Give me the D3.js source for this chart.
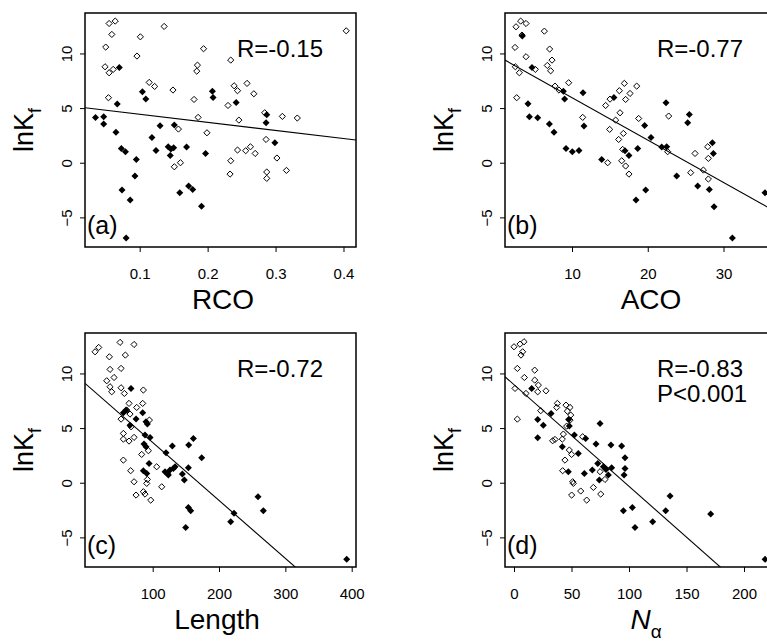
<!DOCTYPE html>
<html>
<head>
<meta charset="utf-8">
<script src="https://cdn.jsdelivr.net/npm/d3@7"></script>
<style>
	body { margin: 0; background: #fff; }
	svg text { font-family: "Liberation Sans", Arial, Helvetica, sans-serif; fill: #000; }
</style>
</head>
<body>
<div id="chart"></div>
<script>
// [x, lnKf] pairs; open = hollow diamonds, filled = solid diamonds
const rcoOpen = [[0.055,12.74],[0.064,12.96],[0.059,11.74],[0.050,10.58],[0.049,8.78],[0.061,8.54],[0.055,8.23],[0.054,5.95],[0.101,11.52],[0.096,9.76],[0.136,12.47],[0.114,7.35],[0.122,6.98],[0.149,6.65],[0.194,10.43],[0.185,8.93],[0.184,8.38],[0.180,5.79],[0.186,4.15],[0.199,2.74],[0.157,3.08],[0.151,-0.37],[0.160,0.00],[0.234,9.39],[0.239,7.04],[0.244,6.59],[0.258,7.26],[0.268,6.31],[0.230,5.24],[0.246,3.90],[0.244,1.16],[0.256,1.10],[0.263,1.46],[0.270,0.85],[0.234,0.18],[0.233,-1.04],[0.286,2.13],[0.287,-0.85],[0.287,-1.43],[0.302,0.43],[0.316,-0.70],[0.310,4.24],[0.332,4.09],[0.404,12.07],[0.284,4.57]];
const rcoFilled = [[0.035,4.15],[0.047,4.21],[0.047,3.54],[0.070,8.72],[0.067,5.37],[0.065,2.80],[0.073,1.31],[0.079,1.01],[0.095,0.30],[0.093,-1.22],[0.074,-2.50],[0.086,-3.41],[0.080,-6.89],[0.104,6.49],[0.109,5.82],[0.118,2.32],[0.130,3.38],[0.124,1.13],[0.142,1.46],[0.150,1.37],[0.145,0.67],[0.151,3.45],[0.169,1.43],[0.159,-2.74],[0.172,-2.13],[0.178,-2.44],[0.191,-3.99],[0.197,0.85],[0.207,6.55],[0.208,5.98],[0.242,5.52],[0.286,3.66],[0.287,4.39],[0.299,1.83],[0.146,1.25]];

const acoOpen = [[2.61,12.44],[3.22,12.96],[3.93,12.74],[3.40,11.68],[2.48,10.55],[3.93,9.70],[2.52,8.78],[3.05,8.23],[2.70,5.95],[5.16,8.54],[6.35,12.04],[7.05,10.40],[7.36,9.39],[6.74,8.90],[7.18,8.41],[7.76,7.01],[8.28,6.65],[9.56,7.32],[11.41,4.15],[14.44,5.24],[15.02,5.82],[16.25,6.59],[16.91,7.26],[17.66,6.34],[18.54,7.01],[17.08,5.79],[16.34,4.57],[15.76,3.90],[14.97,3.05],[16.16,2.13],[16.78,2.68],[16.69,1.22],[16.56,0.18],[17.08,-0.30],[17.52,-1.04],[14.71,0.00],[18.80,4.05],[22.76,4.27],[22.63,1.01],[26.24,0.85],[25.67,-0.91],[27.34,-0.67],[28.00,-1.49],[27.91,1.46],[28.00,0.40]];
const acoFilled = [[4.19,5.40],[4.37,4.21],[5.47,4.12],[4.72,8.72],[3.44,11.59],[7.01,3.54],[7.62,2.80],[8.86,6.55],[9.03,5.82],[9.21,1.31],[10.04,1.01],[10.92,1.13],[11.45,6.40],[11.58,3.35],[13.92,0.30],[15.54,5.98],[17.00,1.10],[17.52,0.67],[18.45,-3.41],[18.67,1.31],[19.59,3.41],[19.73,-2.50],[20.43,2.32],[21.84,1.43],[22.41,5.49],[22.50,1.46],[23.82,-1.22],[25.27,3.66],[25.49,4.42],[26.59,-2.13],[28.13,-2.44],[28.53,1.83],[28.66,0.85],[28.75,-4.02],[31.17,-6.89],[35.48,-2.74]];

const lengthOpen = [[13.1,11.98],[18.6,12.38],[50.8,12.84],[71.9,12.65],[34.7,11.52],[58.8,11.68],[35.7,10.37],[52.3,10.46],[41.7,9.63],[30.7,9.33],[35.7,8.78],[38.2,8.32],[52.3,8.69],[57.3,8.17],[85.9,8.48],[84.9,7.26],[64.3,7.26],[75.9,6.89],[60.8,6.65],[65.8,6.28],[52.3,5.82],[67.3,5.12],[95.0,5.73],[55.8,4.51],[55.8,3.99],[64.3,3.81],[71.9,4.15],[83.4,2.59],[93.5,2.93],[55.8,2.07],[66.8,1.10],[71.9,0.09],[92.0,0.30],[106.0,1.46],[113.6,-0.37],[74.9,-1.13],[85.9,-0.82],[88.4,-1.04],[97.0,-1.59],[91.0,-0.06]];
const lengthFilled = [[67.3,8.63],[55.8,6.40],[59.8,6.65],[74.9,5.82],[84.9,6.40],[89.9,5.58],[92.0,5.37],[65.8,5.27],[88.4,4.36],[96.0,4.15],[86.9,3.54],[89.9,3.29],[94.5,1.77],[85.9,1.10],[91.0,0.85],[120.1,2.74],[129.6,3.35],[118.6,1.01],[123.6,0.70],[126.1,1.16],[131.2,1.31],[133.7,1.46],[144.7,0.79],[147.7,0.24],[153.8,1.37],[154.3,3.45],[161.3,4.05],[173.9,2.29],[149.7,-4.09],[153.8,-2.26],[157.3,-2.56],[217.6,-3.57],[222.6,-2.80],[258.8,-1.28],[266.8,-2.56],[392.5,-7.01],[122.1,0.85]];

const nalphaOpen = [[0.0,12.44],[5.2,12.68],[8.7,12.90],[7.5,11.98],[6.1,11.68],[2.9,10.46],[9.0,9.63],[0.9,8.63],[10.4,8.17],[2.9,5.82],[18.0,10.30],[18.0,9.39],[21.2,8.93],[20.6,8.32],[27.8,8.41],[23.2,6.59],[37.7,7.26],[37.1,6.89],[45.2,7.10],[48.7,6.89],[46.4,6.55],[49.3,6.19],[45.8,5.18],[48.7,5.73],[33.6,3.84],[35.7,3.96],[42.9,4.45],[42.0,3.99],[48.1,2.99],[50.1,2.59],[44.3,2.07],[42.3,1.10],[51.0,0.09],[51.6,-0.06],[50.1,-1.13],[58.0,-0.76],[63.2,-1.59],[69.0,-0.43],[75.4,-1.04],[59.7,4.21],[74.8,1.01],[79.1,0.30]];
const nalphaFilled = [[15.4,8.63],[20.6,5.79],[25.5,5.27],[20.6,4.12],[32.2,6.34],[47.5,5.79],[48.1,5.18],[52.5,4.36],[62.3,4.05],[42.0,3.29],[55.9,2.68],[47.2,1.01],[61.2,0.85],[68.1,1.16],[71.3,3.54],[72.8,1.77],[74.8,5.43],[74.2,0.24],[77.7,1.46],[82.0,0.70],[84.9,1.37],[84.3,3.45],[93.6,3.35],[96.5,2.29],[96.5,1.31],[95.7,0.70],[95.1,-2.56],[102.9,-2.26],[105.2,-4.09],[120.6,-3.57],[131.9,-2.56],[135.7,-1.22],[171.0,-2.87],[218.3,-7.01],[80.0,1.22]];

// regression lines as [intercept, slope]
const rcoFit = [5.17, -7.39];
const acoFit = [9.84, -0.388];
const lengthFit = [8.98, -0.0530];
const nalphaFit = [8.97, -0.0930];

const lnkTicks = [-5, 0, 5, 10];
const rcoTicks = [0.1, 0.2, 0.3, 0.4];
const acoTicks = [10, 20, 30];
const lengthTicks = [100, 200, 300, 400];
const nalphaTicks = [0, 50, 100, 150, 200];

const statLabels = [['R=-0.15'], ['R=-0.77'], ['R=-0.72'], ['R=-0.83', 'P<0.001']];

const boxW = 271, boxH = 234;
const yDomain = [-7.71, 13.7];

const panels = [
	{tag:'(a)', open:rcoOpen, filled:rcoFilled, fit:rcoFit, ticks:rcoTicks, xDomain:[0.0195, 0.4184], left:85, top:13, title:'RCO', titleX:223, stat:statLabels[0]},
	{tag:'(b)', open:acoOpen, filled:acoFilled, fit:acoFit, ticks:acoTicks, xDomain:[1.155, 36.93], left:505, top:13, title:'ACO', titleX:651, stat:statLabels[1]},
	{tag:'(c)', open:lengthOpen, filled:lengthFilled, fit:lengthFit, ticks:lengthTicks, xDomain:[-2.06, 406.5], left:85, top:333, title:'Length', titleX:217, stat:statLabels[2]},
	{tag:'(d)', open:nalphaOpen, filled:nalphaFilled, fit:nalphaFit, ticks:nalphaTicks, xDomain:[-7.83, 227.8], left:505, top:333, title:'N', titleX:646, stat:statLabels[3], greek:true}
];

const diamond = r => `M0,${-r}L${r},0L0,${r}L${-r},0Z`;

const svg = d3.select('#chart').append('svg')
	.attr('width', 767)
	.attr('height', 641);

const drawPanel = (p, i) => {
	let xScale = d3.scaleLinear().domain(p.xDomain).range([0, boxW]);
	let yScale = d3.scaleLinear().domain(yDomain).range([boxH, 0]);

	const g = svg.append('g').attr('transform', `translate(${p.left},${p.top})`);

	g.append('clipPath').attr('id', 'clip' + i)
		.append('rect').attr('width', boxW).attr('height', boxH);

	// x axis
	const xAxis = g.append('g')
		.attr('transform', `translate(0,${boxH})`)
		.call(d3.axisBottom(xScale).tickValues(p.ticks).tickSize(5).tickFormat(d3.format('')));
	xAxis.select('.domain').remove();
	xAxis.selectAll('text').attr('y', 32).attr('dy', 0).style('font-size', '15px');

	// y axis, labels turned parallel to the axis
	const yAxis = g.append('g')
		.call(d3.axisLeft(yScale).tickValues(lnkTicks).tickSize(5));
	yAxis.select('.domain').remove();
	yAxis.selectAll('text')
		.attr('x', 0).attr('dy', 0)
		.attr('text-anchor', 'middle')
		.attr('transform', 'translate(-13,0) rotate(-90)')
		.style('font-size', '15px');
	g.selectAll('.tick line').attr('stroke', '#000');

	// points
	const pts = g.append('g').attr('clip-path', `url(#clip${i})`);
	pts.selectAll('path.open')
		.data(p.open)
		.enter().append('path')
		.attr('class', 'open')
		.attr('d', diamond(3.1))
		.attr('transform', d => `translate(${xScale(d[0])},${yScale(d[1])})`)
		.attr('fill', 'none')
		.attr('stroke', '#000')
		.attr('stroke-width', 1);
	pts.selectAll('path.filled')
		.data(p.filled)
		.enter().append('path')
		.attr('class', 'filled')
		.attr('d', diamond(3.5))
		.attr('transform', d => `translate(${xScale(d[0])},${yScale(d[1])})`)
		.attr('fill', '#000');

	// fitted line
	pts.append('line')
		.attr('x1', xScale(p.xDomain[0]))
		.attr('y1', yScale(p.fit[0] + p.fit[1] * p.xDomain[0]))
		.attr('x2', xScale(p.xDomain[1]))
		.attr('y2', yScale(p.fit[0] + p.fit[1] * p.xDomain[1]))
		.attr('stroke', '#000')
		.attr('stroke-width', 1.1);

	// frame
	g.append('rect')
		.attr('width', boxW).attr('height', boxH)
		.attr('fill', 'none')
		.attr('stroke', '#000')
		.attr('stroke-width', 1.5);

	// panel tag and statistics
	g.append('text')
		.attr('x', 2).attr('y', boxH - 13)
		.style('font-size', '25px')
		.text(p.tag);
	p.stat.forEach((s, k) => {
		g.append('text')
			.attr('x', 152).attr('y', 44 + k * 25)
			.style('font-size', '24px')
			.text(s);
	});

	// axis titles
	const title = svg.append('text')
		.attr('x', p.titleX).attr('y', p.top + boxH + 62)
		.attr('text-anchor', 'middle')
		.style('font-size', '28px');
	if (p.greek) {
		title.append('tspan').style('font-style', 'italic').text(p.title);
		title.append('tspan').attr('dy', 9).style('font-size', '19px').text('α');
	} else {
		title.text(p.title);
	}

	const ylab = svg.append('text')
		.attr('transform', `translate(${p.left - 52},${p.top + boxH / 2}) rotate(-90)`)
		.attr('text-anchor', 'middle')
		.style('font-size', '27px');
	ylab.append('tspan').text('lnK');
	ylab.append('tspan').attr('dy', 8).style('font-size', '18px').text('f');
}

panels.forEach(drawPanel);
</script>
</body>
</html>
